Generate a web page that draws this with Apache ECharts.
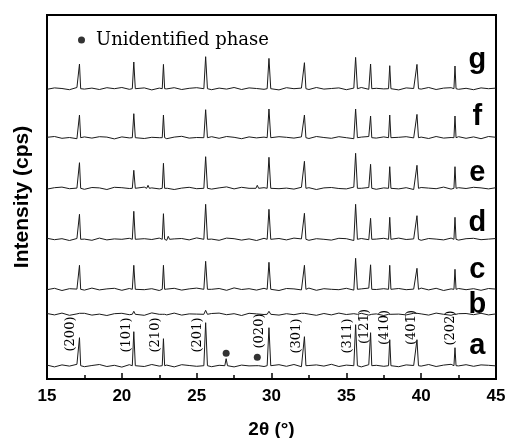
<!DOCTYPE html>
<html><head><meta charset="utf-8">
<script src="https://cdn.jsdelivr.net/npm/echarts@6/dist/echarts.min.js"></script>
<style>html,body{margin:0;padding:0;background:#fff}#c{width:505px;height:438px}</style>
</head><body><div id="c"></div>
<script>
// ---------------- data ----------------
const xTicks = [15, 20, 25, 30, 35, 40, 45];
const sampleNames = ['a', 'b', 'c', 'd', 'e', 'f', 'g'];
// vertical offset (stacking) of each pattern, arbitrary intensity units
const offsets = [13.3, 64.7, 89.7, 139.7, 190.7, 241.3, 290.3];

// common reflection positions (2θ, degrees) and half widths
const peakPos = [17.17, 20.8, 22.78, 25.6, 29.83, 32.2, 35.62, 36.62, 37.9, 39.72, 42.26];
const peakHalfWidth = [0.08, 0.1, 0.08, 0.12, 0.12, 0.1, 0.12, 0.08, 0.08, 0.1, 0.07];

// peak heights above background, per sample
const heightsA = [28, 34, 27, 43, 38, 29, 41, 33, 26, 26, 18];
const heightsB = [1, 3, 2, 4, 3, 1, 2, 1, 1, 1, 1];
const heightsC = [24, 24, 24, 28, 27, 24, 31, 24.5, 24, 21, 20];
const heightsD = [25, 28, 25.6, 35, 30, 26, 35, 21, 22, 23.6, 22];
const heightsE = [25.6, 18, 25, 31.6, 31, 27, 35, 24, 21.6, 23, 21.6];
const heightsF = [22.7, 24, 22.7, 28, 28.7, 22.7, 28.7, 21.7, 22.7, 23.3, 21.7];
const heightsG = [24.7, 26.7, 24.3, 32, 30.3, 26, 31.3, 24.7, 23, 24.3, 22.7];

// extra small peaks [2θ, height]
const extraA = [[26.97, 7], [29.05, 2]];
const extraB = [];
const extraC = [];
const extraD = [[23.1, 3]];
const extraE = [[21.75, 3], [22.95, 2], [29.05, 3]];
const extraF = [];
const extraG = [];

// background wiggle read every 0.5° from 15 to 45
const noiseA = [0.6,-1.2,0.8,-0.4,1.4,-1.0,0.2,1.2,-0.8,0.4,
 -1.4,1.0,0.0,-0.8,1.2,-0.4,0.6,-1.2,1.0,0.2,
 -0.6,1.4,-1.0,0.4,0.8,-1.2,0.6,-0.2,1.2,-0.8,
 0.4,1.0,-0.6,1.2,-1.0,0.2,0.8,-0.4,1.4,-0.8,
 0.6,0.0,-1.2,1.0,0.4,-0.6,1.2,-1.0,0.8,0.2,
 -0.4,1.2,-0.8,0.6,1.4,-0.2,1.0,-0.6,0.8,0.4,-0.2];
const noiseB = [0.8,-0.6,1.2,-1.0,0.4,1.0,-0.8,0.2,-1.2,0.6,
 1.0,-0.4,0.8,-1.0,1.4,0.0,-0.6,1.2,-0.8,0.4,
 0.2,-1.0,0.8,1.2,-0.4,0.6,-1.2,1.0,0.4,-0.2,
 1.2,-0.8,0.6,-0.4,1.0,0.2,-1.0,0.8,-0.6,1.2,
 -0.2,0.6,1.0,-0.8,0.4,-1.2,0.8,0.2,-0.6,1.0,
 0.4,-0.8,1.2,0.0,-1.0,0.6,0.8,-0.4,1.0,-0.6,0.4];
const noiseC = [-0.4,1.0,-1.2,0.6,0.2,-0.8,1.2,-0.6,0.4,1.0,
 -1.0,0.8,1.4,-0.4,0.6,-1.2,0.2,1.0,-0.8,0.4,
 1.2,-0.6,0.0,0.8,-1.0,1.4,-0.2,0.6,-0.8,1.0,
 0.2,-1.2,0.8,0.4,-0.6,1.2,-1.0,0.6,0.0,-0.4,
 1.0,-0.8,0.4,1.2,-0.2,0.6,-1.0,0.8,-0.4,0.2,
 1.2,-0.6,1.0,-1.2,0.4,0.8,-0.4,0.6,-1.0,0.8,0.2];
const noiseD = [1.0,-0.4,0.6,-1.2,0.8,0.2,-1.0,1.2,-0.6,0.4,
 0.0,1.0,-0.8,0.6,-0.2,1.2,-1.0,0.4,0.8,-0.6,
 1.4,-0.4,0.2,-1.0,1.2,0.6,-0.8,0.4,-1.2,1.0,
 -0.2,0.8,-0.6,1.2,0.4,-1.0,0.6,0.0,-0.8,1.0,
 0.6,-1.2,0.8,-0.4,0.2,1.0,-0.6,1.2,-0.2,0.4,
 -1.0,0.8,0.2,-0.6,1.2,-0.8,0.6,1.0,-0.4,0.2,0.8];
const noiseE = [-0.8,0.6,1.2,-0.4,0.2,-1.0,0.8,0.4,-1.2,1.0,
 0.6,-0.2,-1.0,1.2,0.4,-0.6,0.8,-1.2,0.2,1.0,
 -0.4,0.8,-0.8,0.4,1.4,-0.6,1.0,0.0,-1.0,0.6,
 1.2,-0.4,0.2,-0.8,1.0,0.6,-1.2,0.4,0.8,-0.2,
 -0.6,1.2,0.0,0.8,-1.0,0.4,1.0,-0.6,0.6,-1.2,
 0.8,0.2,-0.4,1.2,-0.8,0.6,-0.2,1.0,0.4,-0.6,0.6];
const noiseF = [0.4,1.2,-0.6,0.2,-1.0,0.8,-0.4,1.0,0.6,-1.2,
 0.8,-0.2,1.2,-0.8,0.4,0.0,-1.0,0.6,1.4,-0.4,
 0.2,-0.8,1.0,-0.6,1.2,0.4,-1.0,0.8,-0.2,0.6,
 -1.2,1.0,0.4,-0.4,0.8,-0.8,1.2,0.2,-0.6,1.0,
 0.0,-1.0,0.6,1.2,-0.4,0.8,-1.2,0.4,1.0,-0.2,
 0.6,-0.8,1.2,-0.4,0.2,1.0,-0.6,0.8,-1.0,1.2,0.4];
const noiseG = [-0.6,0.8,0.2,-1.0,1.2,-0.4,0.6,-0.8,1.0,0.0,
 1.2,-0.6,0.4,0.8,-1.2,0.6,-0.2,1.0,-0.8,0.4,
 1.0,0.2,-1.0,0.6,-0.4,1.2,-0.8,0.8,0.2,-0.6,
 0.4,-1.2,1.0,0.0,0.6,-0.8,1.2,-0.4,0.2,0.8,
 -1.0,0.6,1.2,-0.6,0.4,-0.2,1.0,-1.2,0.8,0.2,
 -0.4,1.2,-0.8,0.6,1.0,-0.6,0.4,-1.0,0.8,0.0,0.6];

// Miller indices labelled on pattern a
const hklLabels = ['(200)', '(101)', '(210)', '(201)', '(020)', '(301)', '(311)', '(121\u0305)', '(410)', '(401\u0305)', '(202)'];
const hklX = [16.6, 20.33, 22.25, 25.07, 29.2, 31.66, 35.07, 36.25, 37.53, 39.36, 42.0];
const hklY = [45, 44, 44, 44, 48, 43, 43, 52.5, 51.5, 51.5, 51];

// unidentified phase markers
const unidentified = [[26.97, 25.7], [29.05, 21.7]];

// sample letter label layout
const letterX = 43.75;
const letterY = [33, 74, 109, 156, 206, 262, 319];

// ---------------- build ----------------
const heights = [heightsA, heightsB, heightsC, heightsD, heightsE, heightsF, heightsG];
const extras = [extraA, extraB, extraC, extraD, extraE, extraF, extraG];
const noises = [noiseA, noiseB, noiseC, noiseD, noiseE, noiseF, noiseG];

function buildPattern(k) {
  const base = offsets[k];
  const peaks = peakPos.map((p, i) => [p, heights[k][i], peakHalfWidth[i]])
    .concat(extras[k].map(e => [e[0], e[1], 0.09]));
  const pts = [];
  noises[k].forEach((n, i) => {
    const x = 15 + i * 0.5;
    const inside = peaks.some(pk => x > pk[0] - pk[2] && x < pk[0] + pk[2]);
    if (!inside) pts.push([x, base + n]);
  });
  peaks.forEach(pk => {
    pts.push([pk[0] - pk[2], base]);
    pts.push([pk[0], base + pk[1]]);
    pts.push([pk[0] + pk[2], base]);
  });
  pts.sort((a, b) => a[0] - b[0]);
  return pts;
}

const series = [];
sampleNames.forEach((nm, k) => {
  series.push({
    type: 'line', name: 'pattern ' + nm, data: buildPattern(k),
    showSymbol: false, symbol: 'none', silent: true,
    lineStyle: { color: '#1a1a1a', width: 1 }
  });
});
series.push({
  type: 'scatter', name: 'Unidentified phase', data: unidentified,
  symbol: 'circle', symbolSize: 7, itemStyle: { color: '#000' }, silent: true, z: 5
});
series.push({
  type: 'scatter', name: 'hkl', silent: true,
  data: hklLabels.map((t, i) => ({ value: [hklX[i], hklY[i]], name: t })),
  symbolSize: 1, itemStyle: { color: 'rgba(0,0,0,0)' },
  label: { show: true, position: 'inside', rotate: 90, formatter: '{b}', opacity: 1,
    fontFamily: 'DejaVu Serif', fontSize: 13, color: '#000' }
});
series.push({
  type: 'scatter', name: 'letters', silent: true,
  data: sampleNames.map((t, i) => ({ value: [letterX, letterY[i]], name: t })),
  symbolSize: 1, itemStyle: { color: 'rgba(0,0,0,0)' },
  label: { show: true, position: 'inside', formatter: '{b}', opacity: 1,
    fontFamily: 'Liberation Sans', fontWeight: 'bold', fontSize: 29, color: '#000' }
});

const chart = echarts.init(document.getElementById('c'), null, { renderer: 'canvas' });
chart.setOption({
  animation: false,
  backgroundColor: '#fff',
  grid: { left: 47, right: 9, top: 15, bottom: 59, show: true, borderColor: '#000', borderWidth: 2,
    outerBoundsMode: 'none', containLabel: false },
  legend: {
    data: [{ name: 'Unidentified phase', icon: 'circle' }],
    left: 73, top: 26, itemWidth: 7, itemHeight: 7,
    textStyle: { fontFamily: 'DejaVu Serif', fontSize: 18, color: '#000', padding: [0, 0, 0, 6] },
    selectedMode: false
  },
  xAxis: {
    type: 'value', min: xTicks[0], max: xTicks[xTicks.length - 1], interval: 5,
    name: '2θ (°)', nameLocation: 'middle', nameGap: 41,
    nameTextStyle: { fontFamily: 'Liberation Sans', fontWeight: 'bold', fontSize: 19, color: '#000' },
    axisLine: { show: true, lineStyle: { color: '#000', width: 2 } },
    axisTick: { show: true, inside: true, length: 6, lineStyle: { color: '#000', width: 1.5 } },
    minorTick: { show: true, splitNumber: 2, length: 4, lineStyle: { color: '#000', width: 1.5 } },
    axisLabel: { fontFamily: 'Liberation Sans', fontWeight: 'bold', fontSize: 17, color: '#000', margin: 9 },
    splitLine: { show: false }
  },
  yAxis: {
    type: 'value', min: 0, max: 364,
    name: 'Intensity (cps)', nameLocation: 'middle', nameGap: 14, nameRotate: 90,
    nameTextStyle: { fontFamily: 'Liberation Sans', fontWeight: 'bold', fontSize: 21, color: '#000' },
    axisLine: { show: false }, axisTick: { show: false }, axisLabel: { show: false },
    splitLine: { show: false }
  },
  series: series
});
</script>
</body></html>
